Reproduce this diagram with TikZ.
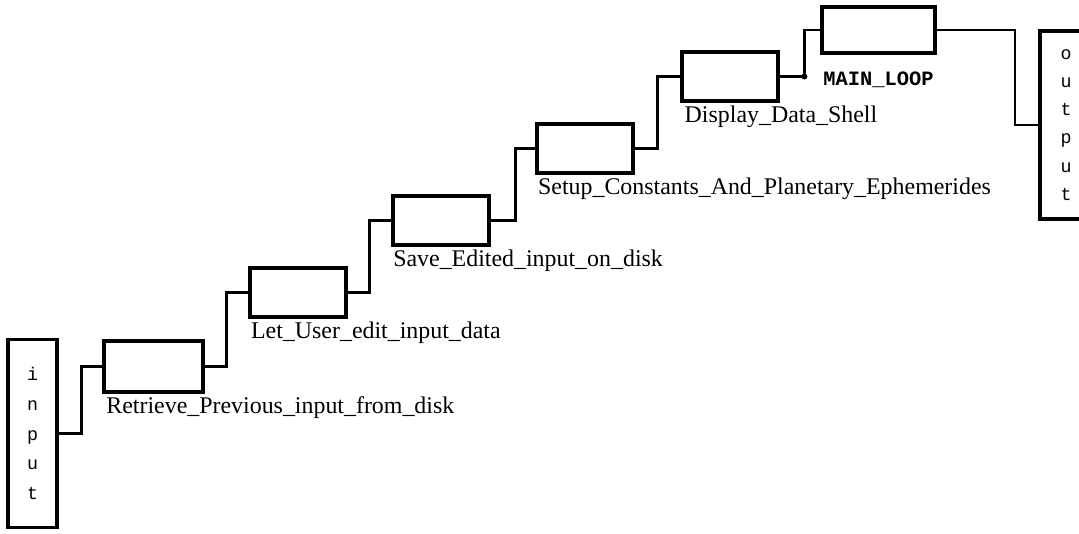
\documentclass[tikz,border=0pt]{standalone}
\usepackage{fontspec}
\setmainfont{Liberation Serif}
\setmonofont{Liberation Mono}
\usetikzlibrary{positioning}

\tikzset{
  procbox/.style={draw, line width=2.8pt, minimum width=2.42cm, minimum height=1.22cm, inner sep=0pt},
  portbox/.style={draw, line width=2.6pt, minimum width=1.22cm, minimum height=4.7cm, inner sep=0pt,
    align=center, font=\ttfamily\fontsize{13}{21}\selectfont},
  wire/.style={line width=2.1pt},
  lbl/.style={anchor=north west, inner sep=0pt, font=\fontsize{17}{19}\selectfont}
}

\begin{document}
\begin{tikzpicture}[x=0.025cm, y=-0.025cm]
  \useasboundingbox (0,0) rectangle (1079,533);
  \clip (0,0) rectangle (1079,533);

  % ports
  \node[portbox] (input) at (32.5,433.5) {i\\n\\p\\u\\t};
  \node[portbox, minimum width=1.3cm, font=\ttfamily\fontsize{13}{20}\selectfont] (output) at (1066,125) {o\\u\\t\\p\\u\\t};

  % procedures
  \node[procbox, minimum width=2.47cm, minimum height=1.27cm] (retrieve) at (153.5,366.5) {};
  \node[procbox] (edit) at (298,292.5) {};
  \node[procbox] (save) at (441,220.5) {};
  \node[procbox] (setup) at (585,148.5) {};
  \node[procbox] (display) at (730,76.5) {};
  \node[procbox, minimum width=2.83cm, minimum height=1.15cm] (mainloop) at (878.5,30) {};

  % labels
  \node[lbl] (retrieveLbl) at ([xshift=0.1cm, yshift=-0.06cm]retrieve.south west) {Retrieve\_Previous\_input\_from\_disk};
  \node[lbl] (editLbl) at ([xshift=0.08cm, yshift=-0.06cm]edit.south west) {Let\_User\_edit\_input\_data};
  \node[lbl] (saveLbl) at ([xshift=0.06cm, yshift=-0.06cm]save.south west) {Save\_Edited\_input\_on\_disk};
  \node[lbl] (setupLbl) at ([xshift=0.08cm, yshift=-0.06cm]setup.south west) {Setup\_Constants\_And\_Planetary\_Ephemerides};
  \node[lbl] (displayLbl) at ([xshift=0.12cm, yshift=-0.06cm]display.south west) {Display\_Data\_Shell};
  \node[below=0.42cm of mainloop, inner sep=0pt, font=\ttfamily\bfseries\fontsize{14.5}{17}\selectfont] (mainloopLbl) {MAIN\_LOOP};

  % connectors
  \draw[wire] (input.east) -- ++(23,0) |- (retrieve.west);
  \draw[wire] (retrieve.east) -- ++(22,0) |- (edit.west);
  \draw[wire] (edit.east) -- ++(21,0) |- (save.west);
  \draw[wire] (save.east) -- ++(24,0) |- (setup.west);
  \draw[wire] (setup.east) -- ++(22,0) |- (display.west);
  \draw[wire] (display.east) -- ++(24,0) coordinate (tap) |- (mainloop.west);
  \fill (tap) circle (3);
  \draw[wire] (mainloop.east) -- (1015,30) |- (output.west);
\end{tikzpicture}
\end{document}
